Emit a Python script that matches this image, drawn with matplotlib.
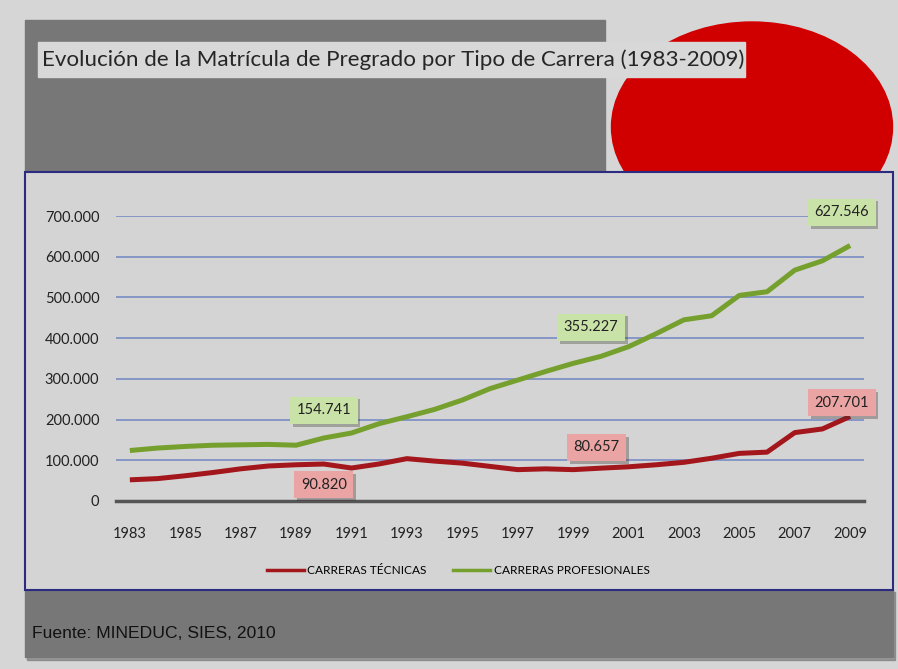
import matplotlib
matplotlib.use("Agg")
import matplotlib.pyplot as plt
import matplotlib.patheffects as pe
from matplotlib.patches import Rectangle, Ellipse
from matplotlib.lines import Line2D
from matplotlib.ticker import FuncFormatter

plt.rcParams["font.family"] = ["Lato", "DejaVu Sans"]

# ---- data ----
years = list(range(1983, 2010))
tecnicas = [52000, 55000, 62000, 70000, 79000, 86000, 89000, 90820, 81000, 91000,
            104000, 98000, 93000, 85000, 77000, 79000, 77000, 80657, 84000, 89000,
            95000, 105000, 117000, 120000, 168000, 177000, 207701]
profesionales = [124000, 130000, 134000, 137000, 138000, 139000, 137000, 154741, 167000, 190000,
                 207000, 225000, 248000, 276000, 297000, 318000, 338000, 355227, 379000, 411000,
                 445000, 455000, 505000, 514000, 567000, 590000, 627546]
label_years = [1990, 2000, 2009]
series_names = ["CARRERAS TÉCNICAS", "CARRERAS PROFESIONALES"]
yticks = [0, 100000, 200000, 300000, 400000, 500000, 600000, 700000]

RED = "#a3161b"
GREEN = "#76a02e"
BG = "#d6d6d6"
DARK = "#777777"
NAVY = "#2b2b80"

W, H = 898, 669
fig = plt.figure(figsize=(W / 100, H / 100), dpi=100)
fig.patch.set_facecolor(BG)

# ---- slide background (pixel coordinates) ----
bg = fig.add_axes([0, 0, 1, 1])
bg.set_xlim(0, W)
bg.set_ylim(H, 0)
bg.axis("off")

bg.add_patch(Rectangle((25, 20), 580, 152, color=DARK, zorder=1))
bg.add_patch(Ellipse((752, 127), 281, 210, color="#d10000", zorder=2))
bg.add_patch(Rectangle((38, 42), 707, 35, color="#d8d8d8", zorder=3))
bg.text(42, 60, "Evolución de la Matrícula de Pregrado por Tipo de Carrera (1983-2009)",
        fontsize=16.1, color="#262626", ha="left", va="center", zorder=4)

# bottom dark band with shadow
bg.add_patch(Rectangle((27, 592), 868, 68, color="#555555", alpha=0.45, zorder=1))
bg.add_patch(Rectangle((25, 590), 868, 67, color=DARK, zorder=2))
bg.text(32, 633, "Fuente: MINEDUC, SIES, 2010", fontsize=12.6, color="#111111",
        family="Liberation Sans", ha="left", va="center", zorder=4)

# chart frame
bg.add_patch(Rectangle((25, 172), 868, 418, facecolor="#d4d4d4", edgecolor=NAVY,
                       lw=1.5, zorder=5))

# ---- chart ----
ax = fig.add_axes([116 / W, (H - 501) / H, 748 / W, (501 - 216) / H])
ax.set_facecolor("none")
x = list(range(len(years)))
ax.plot(x, tecnicas, color=RED, lw=3.6, solid_capstyle="butt", zorder=3)
ax.plot(x, profesionales, color=GREEN, lw=3.6, solid_capstyle="butt", zorder=3)

ax.set_xlim(-0.5, len(years) - 0.5)
ax.set_ylim(0, 700000)
ax.set_yticks(yticks)
ax.yaxis.set_major_formatter(FuncFormatter(lambda v, p: f"{int(v):,}".replace(",", ".")))
ax.set_xticks(x[::2])
ax.set_xticklabels([str(y) for y in years[::2]])
ax.tick_params(axis="both", length=0, labelsize=10.5, colors="#222222")
ax.tick_params(axis="y", pad=12)
ax.tick_params(axis="x", pad=19)
ax.grid(axis="y", color="#8596c6", lw=1.4)
ax.set_axisbelow(True)
for s in ["top", "right", "left"]:
    ax.spines[s].set_visible(False)
ax.spines["bottom"].set_color("#555555")
ax.spines["bottom"].set_linewidth(2.5)
ax.spines["bottom"].set_zorder(2)


def label(year, series, dx, dy, face):
    i = years.index(year)
    v = series[i]
    t = ax.annotate(f"{v:,}".replace(",", "."), (i, v), xytext=(dx, dy),
                    textcoords="offset points", ha="center", va="center",
                    fontsize=10.5, color="#222222", zorder=6,
                    bbox=dict(boxstyle="square,pad=0.45", fc=face, ec="none"))
    t.get_bbox_patch().set_path_effects(
        [pe.withSimplePatchShadow(offset=(2, -2), alpha=0.35), pe.Normal()])


GFACE = "#c9e2a8"
PFACE = "#eaa4a4"
label(1990, profesionales, 0, 20, GFACE)
label(1990, tecnicas, 0, -15, PFACE)
label(2000, profesionales, -7, 21, GFACE)
label(2000, tecnicas, -3, 15, PFACE)
label(2009, profesionales, -6, 24, GFACE)
label(2009, tecnicas, -6, 10, PFACE)

handles = [Line2D([], [], color=RED, lw=2.5), Line2D([], [], color=GREEN, lw=2.5)]
fig.legend(handles, series_names, loc="center", bbox_to_anchor=(458 / W, 1 - 571 / H),
           ncol=2, frameon=False, fontsize=8.6, handlelength=3.1, handletextpad=0.3,
           columnspacing=2.2)

fig.savefig("out.png", dpi=100, facecolor=fig.get_facecolor())
